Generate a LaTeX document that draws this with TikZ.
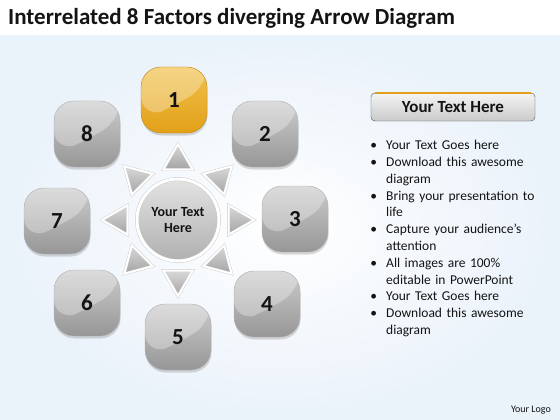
\documentclass[tikz,border=0pt]{standalone}
\usepackage{fontspec}
\setmainfont{Carlito}
\usepackage{tikz}
\usepackage{xcolor}
\usepackage{enumitem}
\usetikzlibrary{shapes.geometric, positioning, calc, shadows}
\definecolor{goldyellow}{RGB}{226,160,24}
\definecolor{lightgold}{RGB}{242,194,78}
\definecolor{paleblue}{RGB}{234,242,250}
\definecolor{darktext}{RGB}{20,20,20}

\begin{document}
\begin{tikzpicture}[x=1pt, y=1pt,
        factor/.style={rectangle, rounded corners=20pt, minimum width=66pt, minimum height=66pt, draw=gray!60, top color=gray!40, bottom color=gray!82, text=darktext, font=\fontsize{23}{23}\selectfont\bfseries, drop shadow={opacity=0.3, shadow xshift=0.5pt, shadow yshift=-2.5pt},
            path picture={\fill[white, opacity=0.3] (path picture bounding box.north west) -- (path picture bounding box.north east) -- ($(path picture bounding box.north east)+(0,-19)$) .. controls ($(path picture bounding box.center)+(0,-6)$) and ($(path picture bounding box.center)+(-14,-12)$) .. ($(path picture bounding box.south west)+(0,17)$) -- cycle;}},
        goldfactor/.style={factor, draw=goldyellow!85!black, top color=lightgold, bottom color=goldyellow},
        hub/.style={circle, minimum size=82pt, draw=gray!45, double=white, double distance=3pt, top color=gray!22, bottom color=gray!62, align=center, text=darktext, font=\fontsize{14}{16}\selectfont\bfseries},
        spoke/.style={regular polygon, regular polygon sides=3, minimum size=34pt, inner sep=0pt, draw=gray!40, double=white, double distance=2pt, top color=gray!30, bottom color=gray!72},
        header/.style={rectangle, rounded corners=4pt, minimum width=164pt, minimum height=28pt, draw=gray!60!black, top color=gray!8, bottom color=gray!42, text=darktext, font=\fontsize{17}{17}\selectfont\bfseries}
    ]
    \useasboundingbox (0,0) rectangle (560,-420);

    % Background
    \fill[white] (0,0) rectangle (560,-420);
    \shade[inner color=white, outer color=paleblue] (0,-36) rectangle (560,-420);

    % Title
    \node (title) [anchor=base west, font=\fontsize{23}{23}\selectfont\bfseries, text=darktext, inner sep=0pt] at (8,-25) {Interrelated 8 Factors diverging Arrow Diagram};

    % Hub with outward triangles
    \node (hub) [hub] at (178,-220) {Your Text\\Here};
    \foreach \a [count=\i] in {90,45,0,-45,-90,-135,180,135}
        \node (s\i) [spoke, rotate=\a-90] at ($(hub)+(\a:59)$) {};

    % Eight factors
    \node (f1) [goldfactor] at (174,-100) {1};
    \node (f2) [factor] at (265,-134) {2};
    \node (f3) [factor] at (295,-219) {3};
    \node (f4) [factor] at (267,-304) {4};
    \node (f5) [factor] at (178,-337) {5};
    \node (f6) [factor] at (87,-303) {6};
    \node (f7) [factor] at (57,-221) {7};
    \node (f8) [factor] at (87,-134) {8};

    % Text panel
    \node (header) [header] at (453,-107) {Your Text Here};
    \draw[goldyellow, line width=2pt] ([xshift=4pt, yshift=-0.7pt]header.north west) -- ([xshift=-4pt, yshift=-0.7pt]header.north east);
    \node (bullets) [anchor=base west, inner sep=0pt, text width=180pt, text=darktext, font=\fontsize{13.5}{16.8}\selectfont] at (369,-133) {%
        \begin{itemize}[leftmargin=17pt, labelsep=9pt, label=\textbullet, topsep=0pt, partopsep=0pt, itemsep=0pt, parsep=0pt]
            \item Your Text Goes here
            \item Download this awesome\newline diagram
            \item Bring your presentation to\newline life
            \item Capture your audience’s\newline attention
            \item All images are 100\%\newline editable in PowerPoint
            \item Your Text Goes here
            \item Download this awesome\newline diagram
        \end{itemize}};

    \node (logo) [anchor=base east, inner sep=0pt, font=\fontsize{10}{10}\selectfont, text=darktext] at (551,-412) {Your Logo};
\end{tikzpicture}
\end{document}
